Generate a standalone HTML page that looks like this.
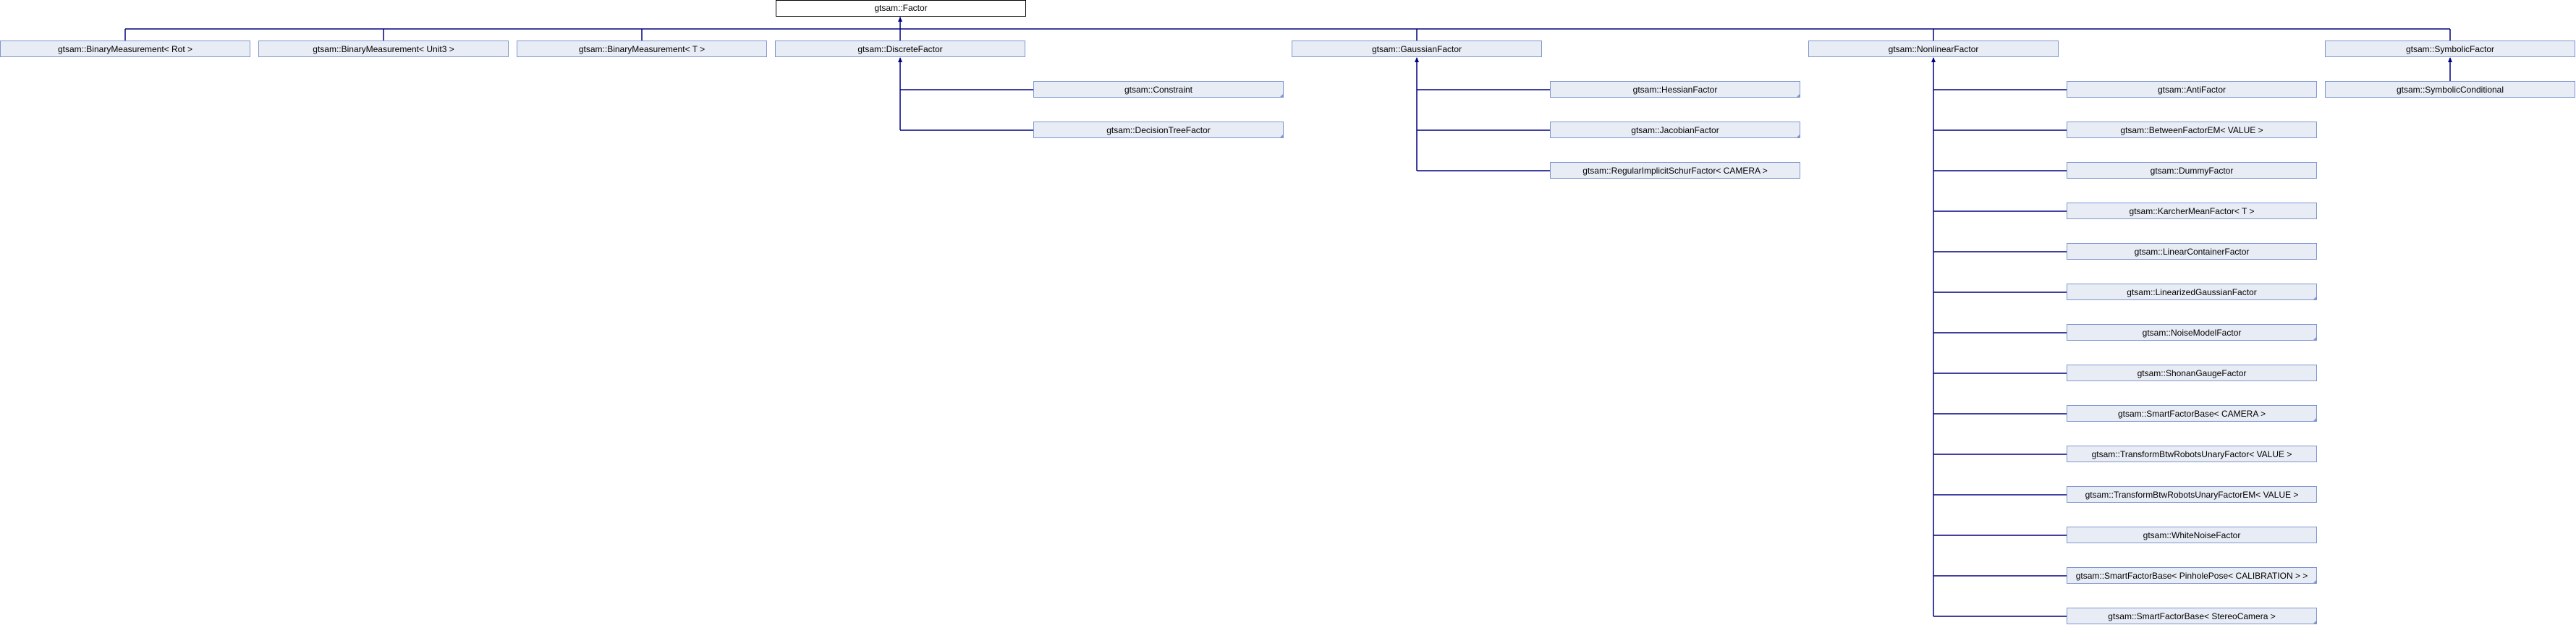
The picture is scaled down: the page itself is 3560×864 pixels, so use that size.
<!DOCTYPE html>
<html><head><meta charset="utf-8"><style>
html,body{margin:0;padding:0;background:#fff;}
svg{display:block;}
text{font-family:"Liberation Sans",sans-serif;font-size:12px;fill:#000;text-anchor:middle;}
</style></head><body>
<svg width="3560" height="864" xmlns="http://www.w3.org/2000/svg">
<g stroke="#000080" stroke-width="1.5" fill="none">
<line x1="173" y1="40" x2="3386" y2="40"/>
<line x1="173" y1="40" x2="173" y2="56"/>
<line x1="530" y1="40" x2="530" y2="56"/>
<line x1="887" y1="40" x2="887" y2="56"/>
<line x1="1244" y1="24" x2="1244" y2="56"/>
<line x1="1958" y1="40" x2="1958" y2="56"/>
<line x1="2672" y1="40" x2="2672" y2="56"/>
<line x1="3386" y1="40" x2="3386" y2="56"/>
<line x1="1244" y1="80" x2="1244" y2="180"/>
<line x1="1244" y1="124" x2="1428" y2="124"/>
<line x1="1244" y1="180" x2="1428" y2="180"/>
<line x1="1958" y1="80" x2="1958" y2="236"/>
<line x1="1958" y1="124" x2="2142" y2="124"/>
<line x1="1958" y1="180" x2="2142" y2="180"/>
<line x1="1958" y1="236" x2="2142" y2="236"/>
<line x1="2672" y1="80" x2="2672" y2="852"/>
<line x1="3386" y1="80" x2="3386" y2="112"/>
</g>
<g fill="#000080">
<polygon points="1244,23 1241,30 1247,30"/>
<polygon points="1244,79 1241,86 1247,86"/>
<polygon points="1958,79 1955,86 1961,86"/>
<polygon points="2672,79 2669,86 2675,86"/>
<polygon points="3386,79 3383,86 3389,86"/>
</g>
<g id="nl" stroke="#000080" stroke-width="1.5">
<line x1="2672" y1="124" x2="2856" y2="124"/><line x1="2672" y1="180" x2="2856" y2="180"/>
<line x1="2672" y1="236" x2="2856" y2="236"/><line x1="2672" y1="292" x2="2856" y2="292"/>
<line x1="2672" y1="348" x2="2856" y2="348"/><line x1="2672" y1="404" x2="2856" y2="404"/>
<line x1="2672" y1="460" x2="2856" y2="460"/><line x1="2672" y1="516" x2="2856" y2="516"/>
<line x1="2672" y1="572" x2="2856" y2="572"/><line x1="2672" y1="628" x2="2856" y2="628"/>
<line x1="2672" y1="684" x2="2856" y2="684"/><line x1="2672" y1="740" x2="2856" y2="740"/>
<line x1="2672" y1="796" x2="2856" y2="796"/><line x1="2672" y1="852" x2="2856" y2="852"/>
</g>
<rect x="1072.5" y="0.5" width="345" height="22" fill="#fff" stroke="#000" stroke-width="1"/>
<text x="1245" y="15">gtsam::Factor</text>
<g fill="#e8ecf5" stroke="#7f96d0" stroke-width="1">
<rect x="0.5" y="56.5" width="345" height="22"/>
<rect x="357.5" y="56.5" width="345" height="22"/>
<rect x="714.5" y="56.5" width="345" height="22"/>
<rect x="1071.5" y="56.5" width="345" height="22"/>
<rect x="1785.5" y="56.5" width="345" height="22"/>
<rect x="2499.5" y="56.5" width="345" height="22"/>
<rect x="3213.5" y="56.5" width="345" height="22"/>
<rect x="1428.5" y="112.5" width="345" height="22"/>
<rect x="1428.5" y="168.5" width="345" height="22"/>
<rect x="2142.5" y="112.5" width="345" height="22"/>
<rect x="2142.5" y="168.5" width="345" height="22"/>
<rect x="2142.5" y="224.5" width="345" height="22"/>
<rect x="3213.5" y="112.5" width="345" height="22"/>
<rect x="2856.5" y="112.5" width="345" height="22"/>
<rect x="2856.5" y="168.5" width="345" height="22"/>
<rect x="2856.5" y="224.5" width="345" height="22"/>
<rect x="2856.5" y="280.5" width="345" height="22"/>
<rect x="2856.5" y="336.5" width="345" height="22"/>
<rect x="2856.5" y="392.5" width="345" height="22"/>
<rect x="2856.5" y="448.5" width="345" height="22"/>
<rect x="2856.5" y="504.5" width="345" height="22"/>
<rect x="2856.5" y="560.5" width="345" height="22"/>
<rect x="2856.5" y="616.5" width="345" height="22"/>
<rect x="2856.5" y="672.5" width="345" height="22"/>
<rect x="2856.5" y="728.5" width="345" height="22"/>
<rect x="2856.5" y="784.5" width="345" height="22"/>
<rect x="2856.5" y="840.5" width="345" height="22"/>
</g>
<g fill="#7f96d0">
<polygon points="1774,129 1774,135 1768,135"/>
<polygon points="1774,185 1774,191 1768,191"/>
<polygon points="2488,129 2488,135 2482,135"/>
<polygon points="2488,185 2488,191 2482,191"/>
<polygon points="3202,409 3202,415 3196,415"/>
<polygon points="3202,465 3202,471 3196,471"/>
<polygon points="3202,577 3202,583 3196,583"/>
<polygon points="3202,801 3202,807 3196,807"/>
<polygon points="3202,857 3202,863 3196,863"/>
</g>
<text x="173" y="72">gtsam::BinaryMeasurement&lt; Rot &gt;</text>
<text x="530" y="72">gtsam::BinaryMeasurement&lt; Unit3 &gt;</text>
<text x="887" y="72">gtsam::BinaryMeasurement&lt; T &gt;</text>
<text x="1244" y="72">gtsam::DiscreteFactor</text>
<text x="1958" y="72">gtsam::GaussianFactor</text>
<text x="2672" y="72">gtsam::NonlinearFactor</text>
<text x="3386" y="72">gtsam::SymbolicFactor</text>
<text x="1601" y="128">gtsam::Constraint</text>
<text x="1601" y="184">gtsam::DecisionTreeFactor</text>
<text x="2315" y="128">gtsam::HessianFactor</text>
<text x="2315" y="184">gtsam::JacobianFactor</text>
<text x="2315" y="240">gtsam::RegularImplicitSchurFactor&lt; CAMERA &gt;</text>
<text x="3386" y="128">gtsam::SymbolicConditional</text>
<text x="3029" y="128">gtsam::AntiFactor</text>
<text x="3029" y="184">gtsam::BetweenFactorEM&lt; VALUE &gt;</text>
<text x="3029" y="240">gtsam::DummyFactor</text>
<text x="3029" y="296">gtsam::KarcherMeanFactor&lt; T &gt;</text>
<text x="3029" y="352">gtsam::LinearContainerFactor</text>
<text x="3029" y="408">gtsam::LinearizedGaussianFactor</text>
<text x="3029" y="464">gtsam::NoiseModelFactor</text>
<text x="3029" y="520">gtsam::ShonanGaugeFactor</text>
<text x="3029" y="576">gtsam::SmartFactorBase&lt; CAMERA &gt;</text>
<text x="3029" y="632">gtsam::TransformBtwRobotsUnaryFactor&lt; VALUE &gt;</text>
<text x="3029" y="688">gtsam::TransformBtwRobotsUnaryFactorEM&lt; VALUE &gt;</text>
<text x="3029" y="744">gtsam::WhiteNoiseFactor</text>
<text x="3029" y="800">gtsam::SmartFactorBase&lt; PinholePose&lt; CALIBRATION &gt; &gt;</text>
<text x="3029" y="856">gtsam::SmartFactorBase&lt; StereoCamera &gt;</text>
</svg>
</body></html>
